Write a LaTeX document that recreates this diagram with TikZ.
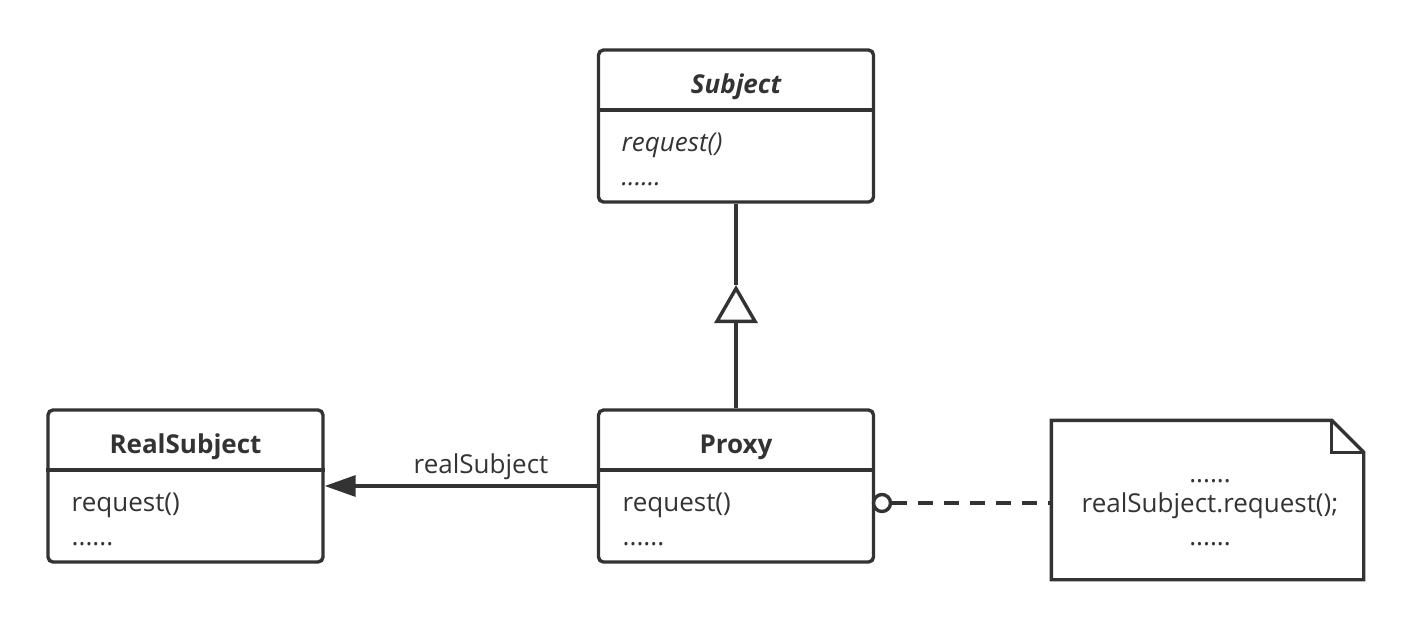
\documentclass[tikz,border=0pt]{standalone}
\usepackage{fontspec}
\setmainfont{Open Sans}
\usetikzlibrary{arrows.meta}
\definecolor{ink}{HTML}{333333}
\begin{document}
\begin{tikzpicture}[x=1pt,y=-1pt, line width=3.4pt, color=ink,
  cls/.style={draw, rounded corners=5pt, minimum width=275pt, minimum height=152pt, inner sep=0pt},
  txt/.style={font=\fontsize{26}{31}\selectfont, inner sep=0pt},
  hdr/.style={txt, font=\fontsize{26}{31}\selectfont\bfseries, anchor=base},
  mem/.style={txt, anchor=base west},
  realize/.style={-{Triangle[open, length=38pt, width=43pt]}, line join=miter},
  assoc/.style={-{Triangle[length=31pt, width=21pt]}},
  dep/.style={dash pattern=on 15pt off 11pt}]
\useasboundingbox (0,0) rectangle (1410,630);
% classes
\node[cls] (subj) at (736,126) {};
\node[cls] (proxy) at (736,486) {};
\node[cls] (real) at (185.5,486) {};
\draw (subj.west |- 0,110) -- (subj.east |- 0,110);
\draw (proxy.west |- 0,470) -- (proxy.east |- 0,470);
\draw (real.west |- 0,470) -- (real.east |- 0,470);
% texts
\node[hdr, font=\fontsize{26}{31}\selectfont\bfseries\itshape] (subjh) at (736,93) {Subject};
\node[mem, font=\fontsize{26}{31}\selectfont\itshape] (subjm1) at (620,151) {request()};
\node[mem, font=\fontsize{26}{31}\selectfont\itshape] (subjm2) at (620,185) {......};
\node[hdr] (proxyh) at (736,453) {Proxy};
\node[mem] (proxym1) at (621,511) {request()};
\node[mem] (proxym2) at (621,545) {......};
\node[hdr] (realh) at (185.5,453) {RealSubject};
\node[mem] (realm1) at (70,511) {request()};
\node[mem] (realm2) at (70,545) {......};
% note
\node[minimum width=309pt, minimum height=156pt, inner sep=0pt] (note) at (1207.5,500) {};
\draw[line join=miter] (note.north west) -- ([xshift=-32pt]note.north east) -- ([yshift=-32pt]note.north east) -- (note.south east) -- (note.south west) -- cycle;
\draw[line join=miter] ([xshift=-32pt]note.north east) -- ([xshift=-32pt,yshift=-32pt]note.north east) -- ([yshift=-32pt]note.north east);
\node[txt, anchor=base] (n1) at (1210,482) {......};
\node[txt, anchor=base] (n2) at (1210,512) {realSubject.request();};
\node[txt, anchor=base] (n3) at (1210,545) {......};
% connectors
\coordinate (apex) at (736,285);
\draw (subj.south) -- (apex);
\draw[realize] (proxy.north) -- (apex);
\draw[assoc] (proxy.west) -- (real.east);
\node[txt, anchor=base] (lbl) at (481,473) {realSubject};
\node[circle, draw, fill=white, minimum size=17pt, inner sep=0pt] (port) at (882,503) {};
\draw[dep] (port) -- (port -| note.west);
\end{tikzpicture}
\end{document}
